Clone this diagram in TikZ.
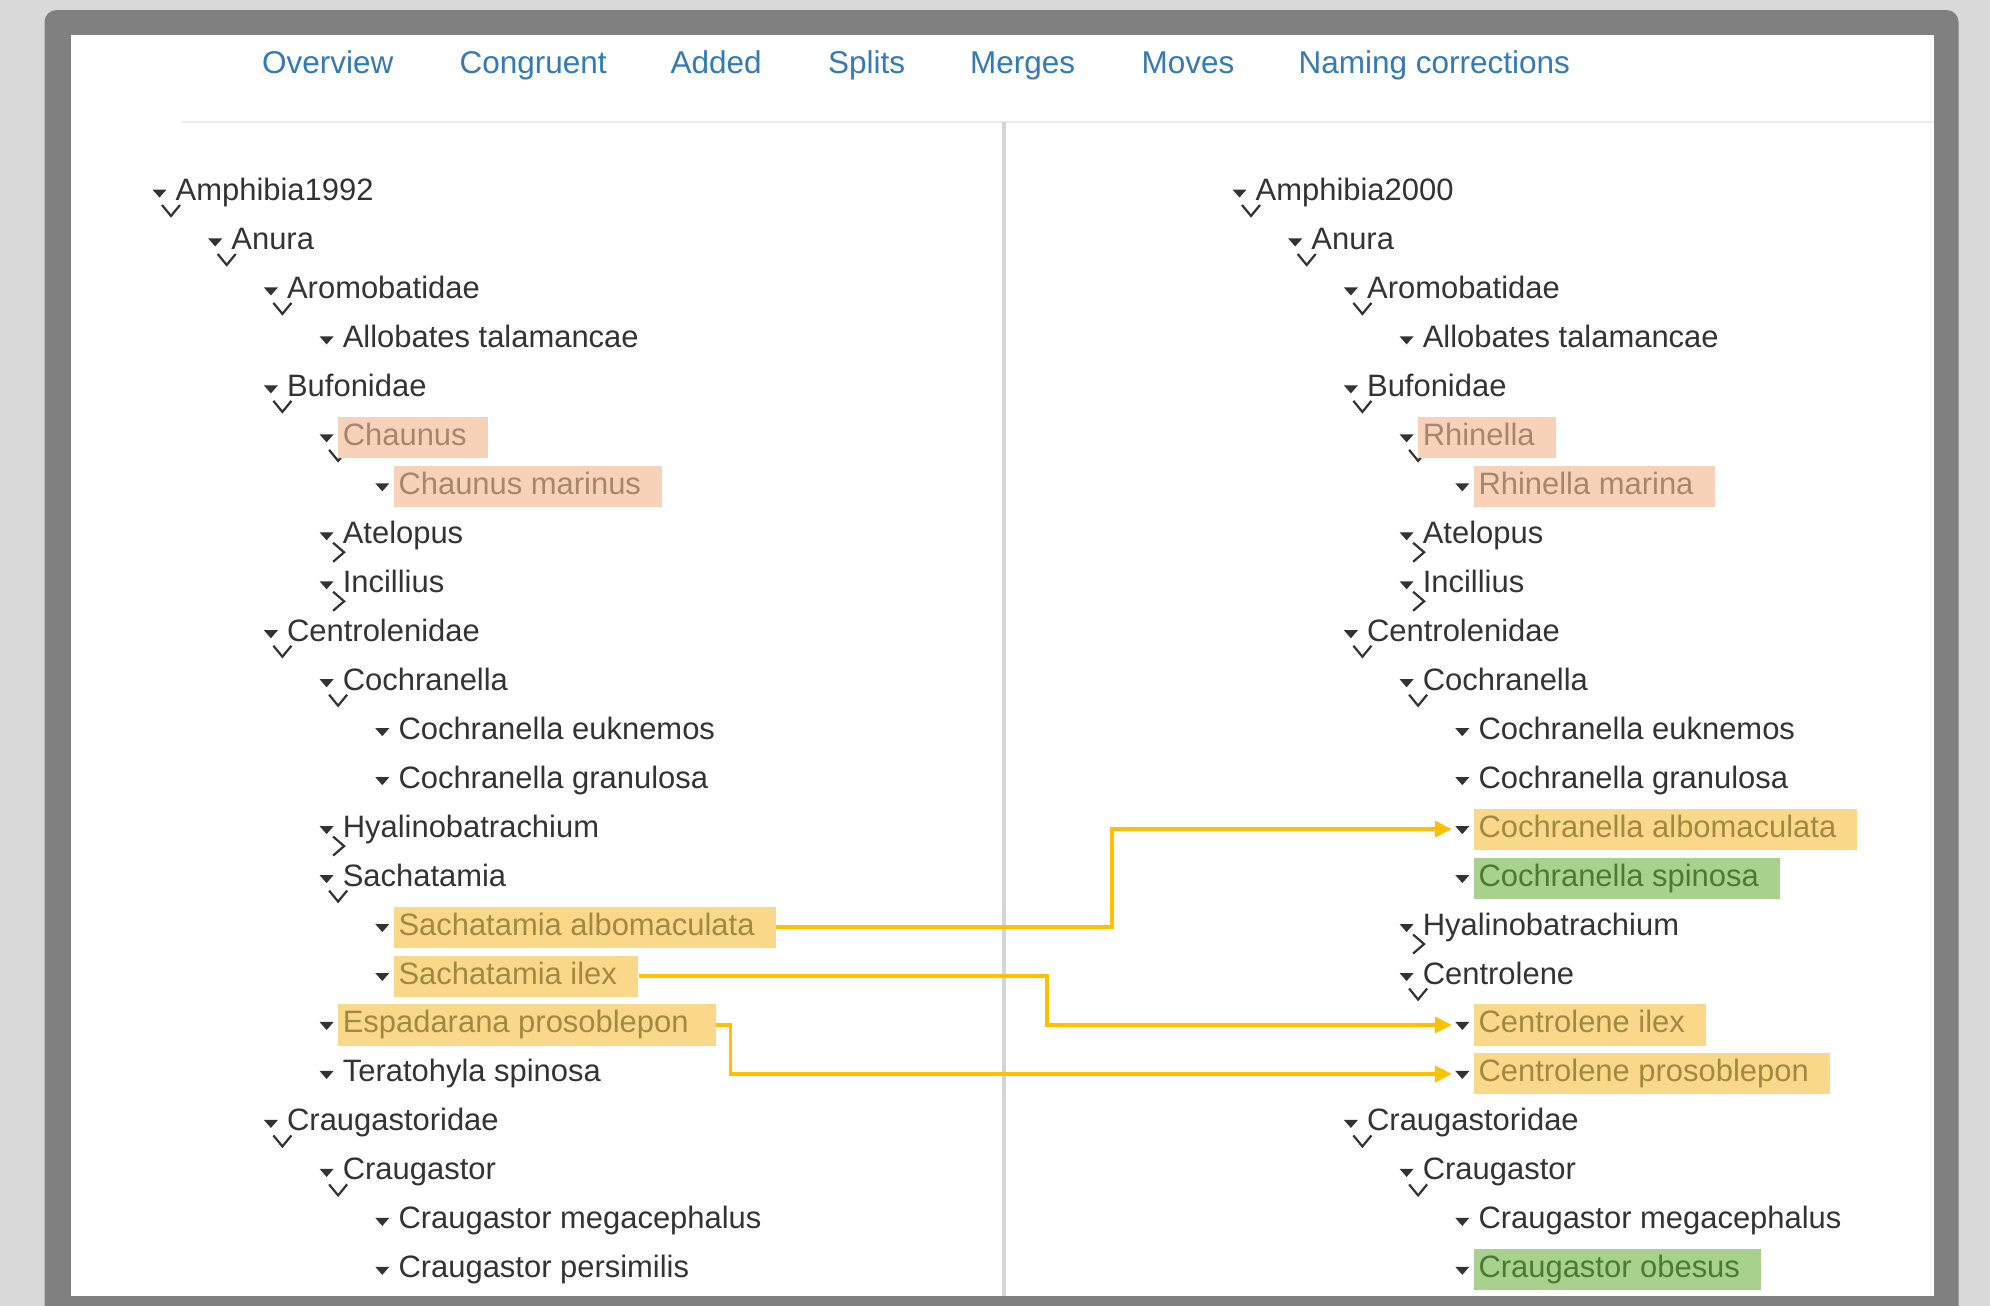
\documentclass[tikz,border=0pt]{standalone}
\usepackage{fontspec}
\setmainfont{Liberation Sans}
\usetikzlibrary{arrows.meta}
\definecolor{pagebg}{HTML}{D9D9D9}
\definecolor{framec}{HTML}{808080}
\definecolor{sepc}{HTML}{EBEBEB}
\definecolor{dividerc}{HTML}{D4D4D4}
\definecolor{linkc}{HTML}{337AB7}
\definecolor{textc}{HTML}{333333}
\definecolor{salmonfill}{HTML}{F8D2B8}
\definecolor{salmontext}{HTML}{A8866E}
\definecolor{yellowfill}{HTML}{FAD88A}
\definecolor{yellowtext}{HTML}{A08940}
\definecolor{greenfill}{HTML}{A9D18E}
\definecolor{greentext}{HTML}{4C7A33}
\definecolor{flowc}{HTML}{FFC000}
\tikzset{
  item/.style={anchor=base west, inner xsep=0.05cm, inner ysep=0pt,
    text height=0.285cm, text depth=0.125cm, text=textc,
    font=\fontsize{8.8pt}{10pt}\selectfont},
  plain/.style={item},
  salmon/.style={item, fill=salmonfill, text=salmontext, execute at end node={\hspace*{0.16cm}}},
  yellow/.style={item, fill=yellowfill, text=yellowtext, execute at end node={\hspace*{0.16cm}}},
  green/.style={item, fill=greenfill, text=greentext, execute at end node={\hspace*{0.16cm}}},
  tab/.style={anchor=base west, inner sep=0pt, text=linkc, font=\fontsize{8.95pt}{10pt}\selectfont},
  chevline/.style={draw=textc, line width=0.022cm, line cap=butt, line join=miter},
  flow/.style={draw=flowc, line width=0.038cm, -{Triangle[length=0.17cm, width=0.16cm]}},
  tri/.pic={\fill[textc] (-22.5,0.5) -- (-8.5,0.5) -- (-15.5,8.5) -- cycle;},
  vchev/.pic={\draw[chevline] (-13,16) -- (-4,27) -- (5,16);},
  rchev/.pic={\draw[chevline] (-9,11) -- (2,20.5) -- (-9,30);},
  nochev/.pic={},
}
% #1 name, #2 x of level-0 text, #3 level, #4 row, #5 chevron pic, #6 style, #7 text
\newcommand{\trow}[7]{%
  \pgfmathsetmacro{\tx}{#2+55.7*#3}%
  \pgfmathsetmacro{\ty}{189+48.97*#4}%
  \pic at (\tx,\ty) {tri};
  \pic at (\tx,\ty) {#5};
  \node[#6] (#1) at (\tx-5,\ty+11.5) {#7};
}
\begin{document}
\begin{tikzpicture}[x=0.01cm, y=-0.01cm]
\useasboundingbox (0,0) rectangle (1990,1306);
% page and frame
\fill[pagebg] (0,0) rectangle (1990,1306);
\fill[framec, rounded corners=0.12cm] (44.5,10) -- (1958.5,10) -- (1958.5,1330) -- (44.5,1330) -- cycle;
\fill[white] (70.5,35) rectangle (1933.5,1296);
% header separator and divider
\draw[sepc, line width=0.015cm] (182,122) -- (1933.5,122);
\fill[dividerc] (1002,122) rectangle (1005.5,1296);
% tabs
\node[tab] (tab1) at (261.5,73.5) {Overview};
\node[tab] (tab2) at (459,73.5) {Congruent};
\node[tab] (tab3) at (670,73.5) {Added};
\node[tab] (tab4) at (827.5,73.5) {Splits};
\node[tab] (tab5) at (969.5,73.5) {Merges};
\node[tab] (tab6) at (1141,73.5) {Moves};
\node[tab] (tab7) at (1298,73.5) {Naming corrections};
% left tree
\trow{l0}{175}{0}{0}{vchev}{plain}{Amphibia1992}
\trow{l1}{175}{1}{1}{vchev}{plain}{Anura}
\trow{l2}{175}{2}{2}{vchev}{plain}{Aromobatidae}
\trow{l3}{175}{3}{3}{nochev}{plain}{Allobates talamancae}
\trow{l4}{175}{2}{4}{vchev}{plain}{Bufonidae}
\trow{l5}{175}{3}{5}{vchev}{salmon}{Chaunus}
\trow{l6}{175}{4}{6}{nochev}{salmon}{Chaunus marinus}
\trow{l7}{175}{3}{7}{rchev}{plain}{Atelopus}
\trow{l8}{175}{3}{8}{rchev}{plain}{Incillius}
\trow{l9}{175}{2}{9}{vchev}{plain}{Centrolenidae}
\trow{l10}{175}{3}{10}{vchev}{plain}{Cochranella}
\trow{l11}{175}{4}{11}{nochev}{plain}{Cochranella euknemos}
\trow{l12}{175}{4}{12}{nochev}{plain}{Cochranella granulosa}
\trow{l13}{175}{3}{13}{rchev}{plain}{Hyalinobatrachium}
\trow{l14}{175}{3}{14}{vchev}{plain}{Sachatamia}
\trow{l15}{175}{4}{15}{nochev}{yellow}{Sachatamia albomaculata}
\trow{l16}{175}{4}{16}{nochev}{yellow}{Sachatamia ilex}
\trow{l17}{175}{3}{17}{nochev}{yellow}{Espadarana prosoblepon\hspace*{0.06cm}}
\trow{l18}{175}{3}{18}{nochev}{plain}{Teratohyla spinosa}
\trow{l19}{175}{2}{19}{vchev}{plain}{Craugastoridae}
\trow{l20}{175}{3}{20}{vchev}{plain}{Craugastor}
\trow{l21}{175}{4}{21}{nochev}{plain}{Craugastor megacephalus}
\trow{l22}{175}{4}{22}{nochev}{plain}{Craugastor persimilis}
% right tree
\trow{r0}{1255}{0}{0}{vchev}{plain}{Amphibia2000}
\trow{r1}{1255}{1}{1}{vchev}{plain}{Anura}
\trow{r2}{1255}{2}{2}{vchev}{plain}{Aromobatidae}
\trow{r3}{1255}{3}{3}{nochev}{plain}{Allobates talamancae}
\trow{r4}{1255}{2}{4}{vchev}{plain}{Bufonidae}
\trow{r5}{1255}{3}{5}{vchev}{salmon}{Rhinella}
\trow{r6}{1255}{4}{6}{nochev}{salmon}{Rhinella marina}
\trow{r7}{1255}{3}{7}{rchev}{plain}{Atelopus}
\trow{r8}{1255}{3}{8}{rchev}{plain}{Incillius}
\trow{r9}{1255}{2}{9}{vchev}{plain}{Centrolenidae}
\trow{r10}{1255}{3}{10}{vchev}{plain}{Cochranella}
\trow{r11}{1255}{4}{11}{nochev}{plain}{Cochranella euknemos}
\trow{r12}{1255}{4}{12}{nochev}{plain}{Cochranella granulosa}
\trow{r13}{1255}{4}{13}{nochev}{yellow}{Cochranella albomaculata}
\trow{r14}{1255}{4}{14}{nochev}{green}{Cochranella spinosa}
\trow{r15}{1255}{3}{15}{rchev}{plain}{Hyalinobatrachium}
\trow{r16}{1255}{3}{16}{vchev}{plain}{Centrolene}
\trow{r17}{1255}{4}{17}{nochev}{yellow}{Centrolene ilex}
\trow{r18}{1255}{4}{18}{nochev}{yellow}{Centrolene prosoblepon}
\trow{r19}{1255}{2}{19}{vchev}{plain}{Craugastoridae}
\trow{r20}{1255}{3}{20}{vchev}{plain}{Craugastor}
\trow{r21}{1255}{4}{21}{nochev}{plain}{Craugastor megacephalus}
\trow{r22}{1255}{4}{22}{nochev}{green}{Craugastor obesus}
% connectors
\coordinate (k1) at (1112,900);
\coordinate (k2) at (1047,1000);
\coordinate (k3) at (730.5,1050);
\draw[flow] (l15.east) -- (l15.east -| k1) -- (k1 |- r13.west) -- ([xshift=-0.21cm]r13.west);
\draw[flow] (l16.east) -- (l16.east -| k2) -- (k2 |- r17.west) -- ([xshift=-0.21cm]r17.west);
\draw[flow] (l17.east) -- (l17.east -| k3) -- (k3 |- r18.west) -- ([xshift=-0.21cm]r18.west);
\end{tikzpicture}
\end{document}
